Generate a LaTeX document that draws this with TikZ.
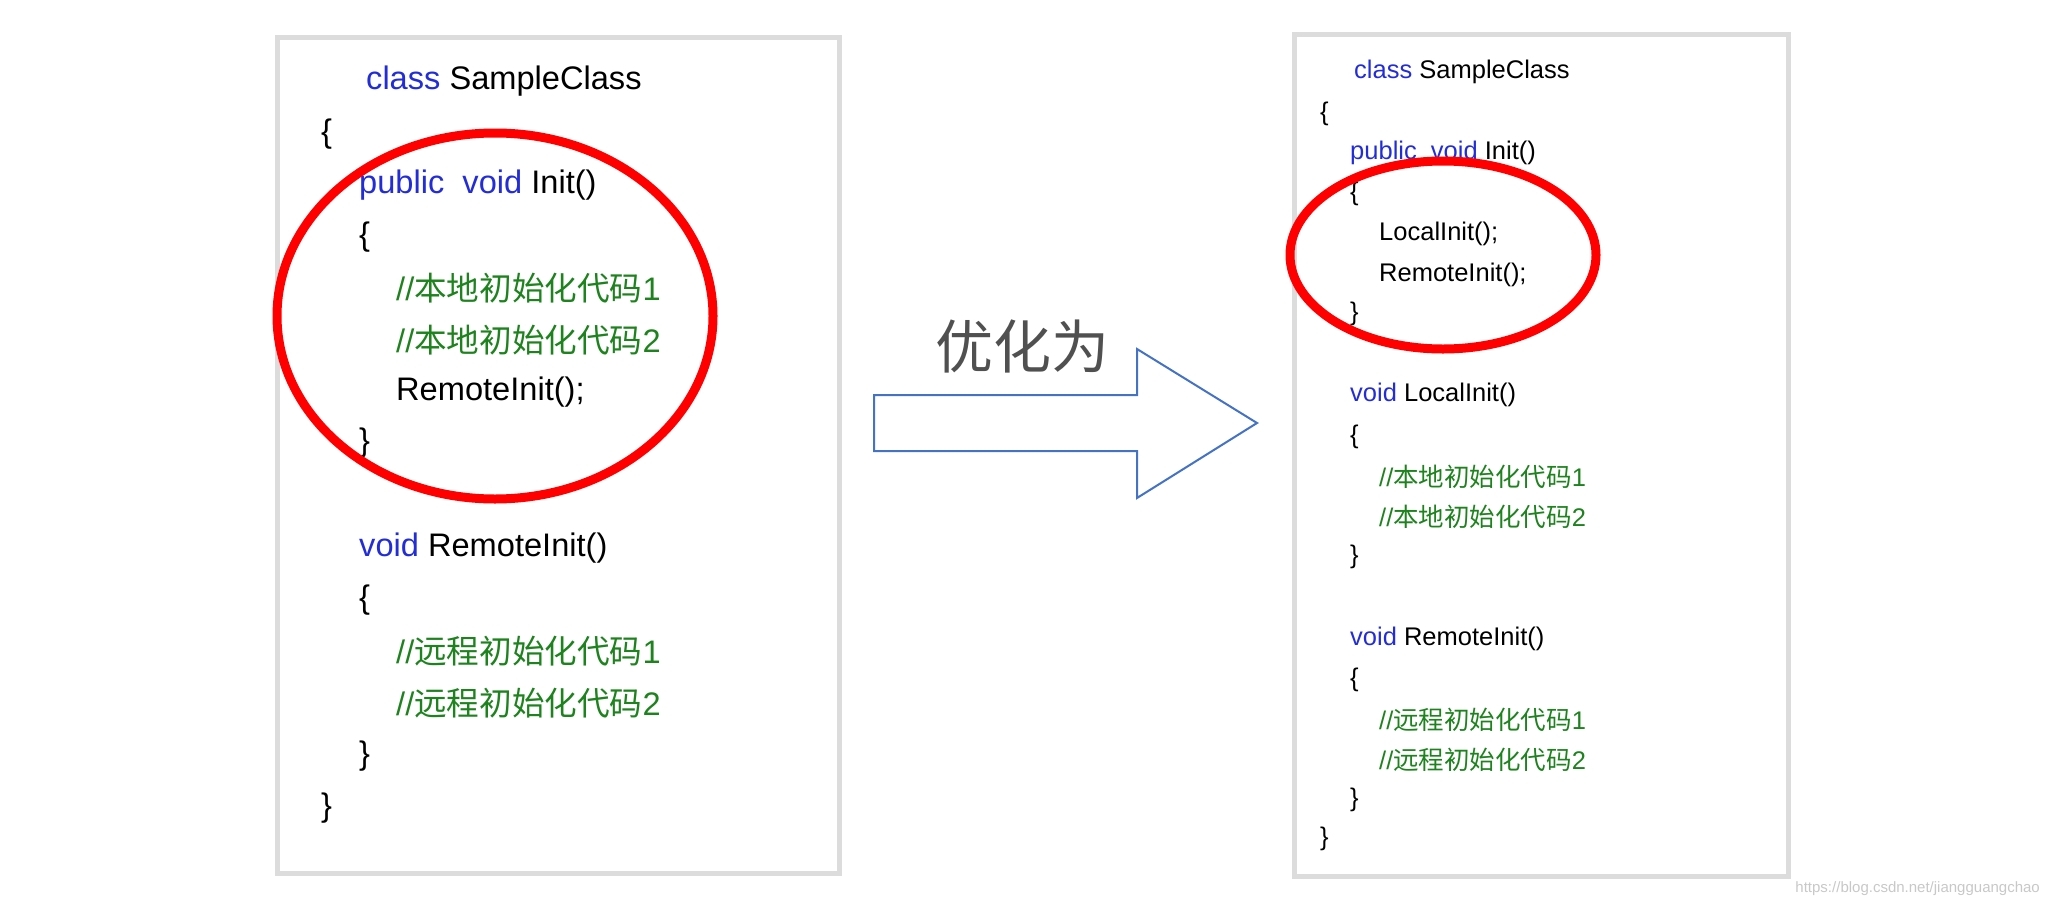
\documentclass[tikz,border=0pt]{standalone}
\usepackage{fontspec}
\setmainfont{Liberation Sans}
\newfontfamily\cjk{Noto Sans CJK SC}
\definecolor{kw}{RGB}{35,45,215}
\definecolor{cm}{RGB}{30,130,30}
\definecolor{bx}{RGB}{220,220,220}
\definecolor{ar}{RGB}{68,114,196}
\begin{document}
\begin{tikzpicture}[x=1pt,y=-1pt,
  L/.style={anchor=west,inner sep=0pt,font=\fontsize{32.6}{36}\selectfont},
  R/.style={anchor=west,inner sep=0pt,font=\fontsize{25.5}{30}\selectfont},
  ring/.style={draw=red,line width=9pt}]
\useasboundingbox (0,0) rectangle (2049,905);
\draw[bx,line width=5pt] (277,37) rectangle (839,873);
\draw[bx,line width=5pt] (1294,34) rectangle (1788,876);
% left
\begin{scope}[yshift=-3pt]
\node[L] (l1) at (366,78) {\textcolor{kw}{class} SampleClass};
\node[L] (l2) at (321,131) {\{};
\node[L] (l3) at (359,182) {\textcolor{kw}{public\ \ void} Init()};
\node[L] (l4) at (359,234) {\{};
\node[L,text=cm] (l5) at (396,285) {//{\cjk 本地初始化代码}1};
\node[L,text=cm] (l6) at (396,337) {//{\cjk 本地初始化代码}2};
\node[L] (l7) at (396,389) {RemoteInit();};
\node[L] (l8) at (359,440) {\}};
\node[L] (l9) at (359,545) {\textcolor{kw}{void} RemoteInit()};
\node[L] (l10) at (359,597) {\{};
\node[L,text=cm] (l11) at (396,648) {//{\cjk 远程初始化代码}1};
\node[L,text=cm] (l12) at (396,700) {//{\cjk 远程初始化代码}2};
\node[L] (l13) at (359,753) {\}};
\node[L] (l14) at (321,805) {\}};
\end{scope}
\draw[ring] (495,316) ellipse [x radius=218,y radius=183];
% right
\begin{scope}[yshift=-3pt]
\node[R] (r1) at (1354,69) {\textcolor{kw}{class} SampleClass};
\node[R] (r2) at (1320,111) {\{};
\node[R] (r3) at (1350,150) {\textcolor{kw}{public\ \ void} Init()};
\node[R] (r4) at (1350,191) {\{};
\node[R] (r5) at (1379,231) {LocalInit();};
\node[R] (r6) at (1379,272) {RemoteInit();};
\node[R] (r7) at (1350,311) {\}};
\node[R] (r8) at (1350,392) {\textcolor{kw}{void} LocalInit()};
\node[R] (r9) at (1350,434) {\{};
\node[R,text=cm] (r10) at (1379,474) {//{\cjk 本地初始化代码}1};
\node[R,text=cm] (r11) at (1379,514) {//{\cjk 本地初始化代码}2};
\node[R] (r12) at (1350,554) {\}};
\node[R] (r13) at (1350,636) {\textcolor{kw}{void} RemoteInit()};
\node[R] (r14) at (1350,677) {\{};
\node[R,text=cm] (r15) at (1379,717) {//{\cjk 远程初始化代码}1};
\node[R,text=cm] (r16) at (1379,757) {//{\cjk 远程初始化代码}2};
\node[R] (r17) at (1350,797) {\}};
\node[R] (r18) at (1320,836) {\}};
\end{scope}
\draw[ring] (1443,255) ellipse [x radius=153,y radius=94];
% arrow
\draw[ar,line width=2pt,line join=miter] (874,395) -- (1137,395) -- (1137,349) -- (1257,423) -- (1137,498) -- (1137,451) -- (874,451) -- cycle;
\node[inner sep=0pt,text={rgb,255:red,80;green,80;blue,80},font=\cjk\fontsize{58}{64}\selectfont] (t) at (1022,346) {优化为};
\node[anchor=east,inner sep=0pt,text={rgb,255:red,200;green,200;blue,200},font=\fontsize{15}{18}\selectfont] (w) at (2040,889) {https://blog.csdn.net/jiangguangchao};
\end{tikzpicture}
\end{document}
